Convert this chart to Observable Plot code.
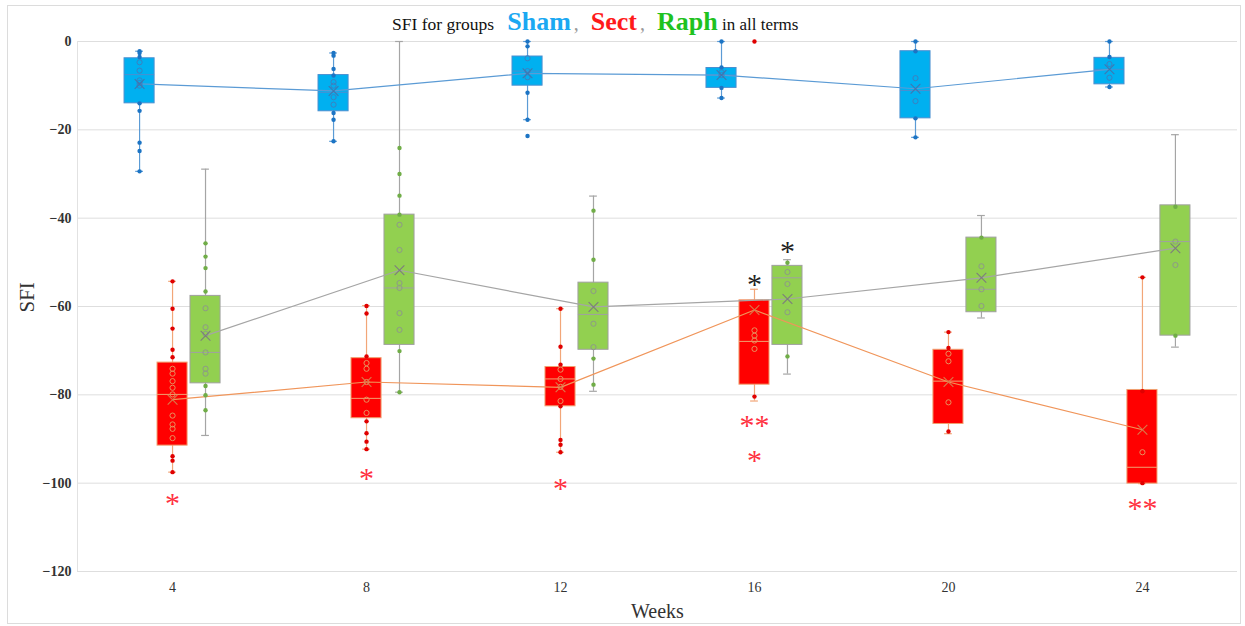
<!DOCTYPE html>
<html>
<head>
<meta charset="utf-8">
<script src="https://cdn.jsdelivr.net/npm/d3@7"></script>
<script src="https://cdn.jsdelivr.net/npm/@observablehq/plot@0.6"></script>
<style>
  html, body { margin: 0; padding: 0; background: #fff; }
  #wrap { position: relative; width: 1245px; height: 626px; overflow: hidden; }
  #chart { position: absolute; left: 0; top: 0; }
  #title { position: absolute; left: 392px; top: 7px; height: 30px; line-height: 30px; white-space: nowrap;
           font-family: "Liberation Serif", "Times New Roman", serif; color: #111; }
  #title .small { font-size: 17.5px; }
  #title .grp { font-size: 26px; font-weight: bold; }
  #title .comma { font-size: 20px; color: #999; margin: 0 12px 0 3px; }
  #frame { position: absolute; left: 7px; top: 5px; width: 1232px; height: 617px; border: 1px solid #dcdcdc; pointer-events: none; }
</style>
</head>
<body>
<div id="wrap">
  <div id="chart"></div>
  <div id="title"><span class="small">SFI for groups&nbsp;&nbsp;&nbsp;</span><span class="grp" style="color:#1ba8f2">Sham</span><span class="comma">,</span><span class="grp" style="color:#ff1a1a">Sect</span><span class="comma">,</span><span class="grp" style="color:#1fc21f">Raph</span><span class="small" style="font-size:17px">&nbsp;in all terms</span></div>
  <div id="frame"></div>
</div>
<script>
// ---------- data ----------
const weeks = [4, 8, 12, 16, 20, 24];
const groups = ["Sham", "Sect", "Raph"];
const yTicks = [0, -20, -40, -60, -80, -100, -120];

// Sham box statistics (per week)
const shamLow    = [-29.4, -22.6, -17.7, -12.8, -21.7, -10.3];
const shamQ1     = [-14.0, -15.8, -10.0, -10.5, -17.4,  -9.7];
const shamMedian = [ -7.5, -11.5,  -6.7,  -7.6, -11.1,  -6.3];
const shamQ3     = [ -3.8,  -7.6,  -3.4,  -6.0,  -2.2,  -3.7];
const shamHigh   = [ -2.2,  -2.6,   0.0,   0.0,   0.0,   0.0];
const shamMean   = [ -9.6, -11.2,  -7.2,  -7.6, -10.7,  -6.3];

// Sect box statistics
const sectLow    = [-97.5, -92.3, -93.0, -81.4, -88.8, -100.1];
const sectQ1     = [-91.5, -85.3, -82.6, -77.7, -86.6, -100.1];
const sectMedian = [-79.9, -80.8, -76.4, -67.9, -76.9,  -96.4];
const sectQ3     = [-72.7, -71.7, -73.7, -58.6, -69.8,  -78.9];
const sectHigh   = [-54.3, -59.8, -60.5, -56.1, -65.8,  -53.4];
const sectMean   = [-81.1, -77.1, -78.3, -60.8, -77.1,  -87.9];

// Raph box statistics
const raphLow    = [-89.2, -79.4, -79.2, -75.3, -62.6, -69.2];
const raphQ1     = [-77.4, -68.7, -69.8, -68.7, -61.3, -66.6];
const raphMedian = [-70.4, -55.8, -61.8, -53.5, -56.1, -45.3];
const raphQ3     = [-57.6, -39.2, -54.6, -50.8, -44.4, -37.1];
const raphHigh   = [-28.9,   0.0, -35.0, -49.4, -39.4, -21.1];
const raphMean   = [-66.6, -51.8, -60.1, -58.3, -53.5, -46.8];

// individual observations (per week)
const shamPoints = [
  [-2.2, -2.6, -3.5, -4.7, -6.6, -8.8, -9.4, -10.0, -14.0, -15.7, -22.9, -24.8, -29.4],
  [-2.6, -3.2, -6.2, -7.7, -9.2, -10.0, -12.6, -14.3, -16.2, -17.7, -22.6],
  [0, -1.1, -3.8, -6.7, -8.1, -11.6, -17.7, -21.4],
  [0, -5.9, -7.0, -7.6, -10.5, -12.8],
  [0, -2.2, -8.3, -13.5, -17.4, -21.7],
  [0, -3.5, -5.1, -8.2, -10.3]
];
const sectPoints = [
  [-54.3, -60.5, -65.0, -69.8, -71.5, -74.1, -75.2, -76.9, -78.4, -79.9, -84.7, -86.7, -87.7, -89.8, -93.9, -94.9, -97.5],
  [-59.9, -61.6, -71.3, -72.8, -74.1, -77.1, -81.1, -84.1, -86.0, -88.7, -90.6, -92.3],
  [-60.5, -69.1, -73.2, -74.3, -76.4, -78.2, -81.4, -82.6, -90.2, -91.3, -93.0],
  [0, -65.4, -66.6, -67.7, -69.6, -80.4],
  [-65.8, -69.4, -70.7, -72.4, -81.7, -88.3],
  [-53.4, -79.2, -93.0, -100.0]
];
const raphPoints = [
  [-45.7, -48.7, -51.3, -56.6, -60.4, -64.7, -66.2, -70.4, -74.1, -75.2, -78.0, -80.1, -83.5],
  [-24.1, -30.0, -34.9, -39.2, -41.5, -47.2, -54.7, -55.8, -61.5, -65.3, -70.1, -79.4],
  [-38.3, -49.4, -56.5, -63.9, -69.2, -71.8, -77.7],
  [-50.1, -52.2, -54.9, -61.3, -71.3],
  [-44.4, -50.9, -56.1, -59.9],
  [-37.4, -45.3, -50.6, -66.6]
];

// significance marks
const starWeeks  = [4, 8, 12, 16, 16, 24, 16, 16];
const starGroups = ["Sect", "Sect", "Sect", "Sect", "Sect", "Sect", "Sect", "Raph"];
const starY      = [-103.2, -97.6, -99.8, -85.6, -93.5, -104.3, -53.7, -46.2];
const starText   = ["*", "*", "*", "**", "*", "**", "*", "*"];
const starKind   = ["red", "red", "red", "red", "red", "red", "black", "black"];

// ---------- styles ----------
const offset = {Sham: -0.68, Sect: 0, Raph: 0.68};
const halfW = 0.31, capHalf = 0.08;
const boxFill    = {Sham: "#00b0f0", Sect: "#ff0000", Raph: "#92d050"};
const boxStroke  = {Sham: "#4a8fd0", Sect: "#f0a070", Raph: "#a0a0a0"};
const whiskCol   = {Sham: "#5b9bd5", Sect: "#f2a678", Raph: "#a5a5a5"};
const lineCol    = {Sham: "#5b9bd5", Sect: "#f0955a", Raph: "#a5a5a5"};
const dotCol     = {Sham: "#1c74c4", Sect: "#e00000", Raph: "#70ad47"};
const ringCol    = {Sham: "#3d80c0", Sect: "#e8905e", Raph: "#8d9a88"};
const meanCol    = {Sham: "#3f76b0", Sect: "#d9784a", Raph: "#7d7d7d"};
const starCol    = {red: "#ff3040", black: "#222222"};

// ---------- tables ----------
const stats = {
  Sham: [shamLow, shamQ1, shamMedian, shamQ3, shamHigh, shamMean],
  Sect: [sectLow, sectQ1, sectMedian, sectQ3, sectHigh, sectMean],
  Raph: [raphLow, raphQ1, raphMedian, raphQ3, raphHigh, raphMean]
};
const pts = {Sham: shamPoints, Sect: sectPoints, Raph: raphPoints};
const boxes = [];
const points = [];
groups.forEach(g => weeks.forEach((w, i) => {
  const [lo, q1, med, q3, hi, mean] = stats[g].map(a => a[i]);
  const b = {group: g, week: w, x: w + offset[g], lo, q1, med, q3, hi, mean};
  boxes.push(b);
  pts[g][i].forEach(v => points.push({group: g, x: b.x, v, inside: v > q1 + 0.3 && v < q3 - 0.3}));
}));
const stars = starWeeks.map((w, i) => ({x: w + offset[starGroups[i]], y: starY[i], text: starText[i], color: starCol[starKind[i]]}));

const serif = "Liberation Serif, Times New Roman, serif";

const chart = Plot.plot({
  width: 1245, height: 626,
  marginLeft: 77, marginRight: 8, marginTop: 41, marginBottom: 55,
  x: {domain: [2.04, 25.96]},
  y: {domain: [-120, 0]},
  color: {type: "identity"},
  style: {fontFamily: serif, background: "transparent", overflow: "visible"},
  marks: [
    Plot.gridY(yTicks, {stroke: "#dedede", strokeOpacity: 1}),
    Plot.ruleX([2.04], {stroke: "#e2e2e2"}),
    Plot.axisY({ticks: yTicks, tickSize: 0, tickPadding: 6, fontSize: 14, fontWeight: "bold", fill: "#333", label: null, fontFamily: serif}),
    Plot.axisX({ticks: weeks, tickSize: 0, tickPadding: 11, fontSize: 14, fill: "#333", label: null, fontFamily: serif, tickFormat: d => String(d)}),
    // whiskers
    Plot.ruleX(boxes, {x: "x", y1: "lo", y2: "hi", stroke: d => whiskCol[d.group], strokeWidth: 1.2}),
    Plot.ruleY(boxes, {y: "lo", x1: d => d.x - capHalf, x2: d => d.x + capHalf, stroke: d => whiskCol[d.group], strokeWidth: 1.2}),
    Plot.ruleY(boxes, {y: "hi", x1: d => d.x - capHalf, x2: d => d.x + capHalf, stroke: d => whiskCol[d.group], strokeWidth: 1.2}),
    // boxes
    Plot.rect(boxes, {x1: d => d.x - halfW, x2: d => d.x + halfW, y1: "q1", y2: "q3", fill: d => boxFill[d.group], stroke: d => boxStroke[d.group], strokeWidth: 1}),
    Plot.ruleY(boxes, {y: "med", x1: d => d.x - halfW, x2: d => d.x + halfW, stroke: d => boxStroke[d.group], strokeWidth: 1}),
    // mean lines
    Plot.line(boxes, {x: "x", y: "mean", z: "group", stroke: d => lineCol[d.group], strokeWidth: 1.2}),
    // points
    Plot.dot(points.filter(d => !d.inside), {x: "x", y: "v", r: 2.2, fill: d => dotCol[d.group], stroke: "none"}),
    Plot.dot(points.filter(d => d.inside), {x: "x", y: "v", r: 2.6, fill: "none", stroke: d => ringCol[d.group], strokeWidth: 1}),
    // mean markers
    Plot.dot(boxes, {x: "x", y: "mean", symbol: "times", r: 4.5, stroke: d => meanCol[d.group], strokeWidth: 1.1}),
    // significance marks
    Plot.text(stars, {x: "x", y: "y", text: "text", fill: "color", fontSize: 30, dy: 6, fontFamily: serif, lineAnchor: "middle"}),
    // axis titles
    Plot.text(["Weeks"], {frameAnchor: "bottom", dy: 46, text: d => d, fontSize: 20, fill: "#333", fontFamily: serif}),
    Plot.text(["SFI"], {frameAnchor: "left", dx: -50, dy: 6, rotate: -90, text: d => d, fontSize: 21, fill: "#333", fontFamily: serif})
  ]
});
document.getElementById("chart").appendChild(chart);
</script>
</body>
</html>
